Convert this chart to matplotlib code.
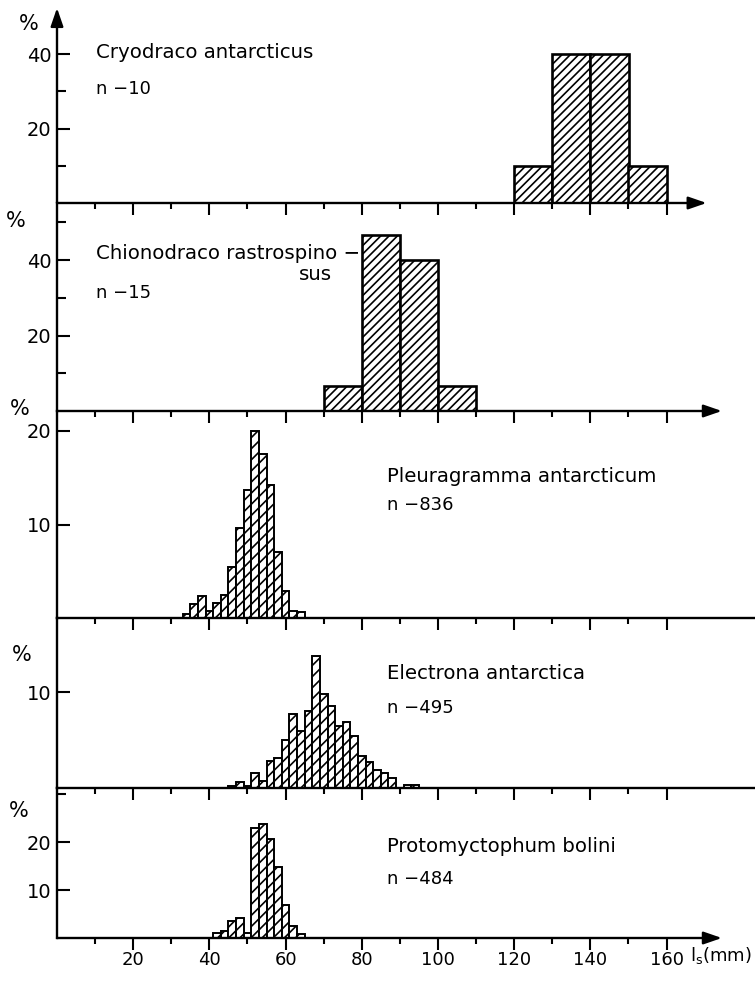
import numpy as np
import matplotlib.pyplot as plt

# length classes (left edge, mm) and share of the sample (%)
cryo_left = [120, 130, 140, 150]
cryo_pct = [10, 40, 40, 10]

chion_left = [70, 80, 90, 100]
chion_pct = [6.7, 46.7, 40, 6.7]

pleur_left = [33, 35, 37, 39, 41, 43, 45, 47, 49, 51, 53, 55, 57, 59, 61, 63]
pleur_pct = [0.4, 1.45, 2.35, 0.7, 1.6, 2.5, 5.5, 9.6, 13.7, 20.0, 17.5, 14.2,
             7.1, 2.9, 0.8, 0.6]

elec_left = [45, 47, 49, 51, 53, 55, 57, 59, 61, 63, 65, 67, 69, 71, 73, 75,
             77, 79, 81, 83, 85, 87, 91, 93]
elec_pct = [0.2, 0.6, 0.25, 1.6, 0.7, 2.8, 3.1, 5.0, 7.7, 5.9, 8.0, 13.8, 9.8,
            8.5, 6.5, 6.9, 5.4, 3.3, 2.7, 1.9, 1.6, 1.0, 0.35, 0.35]

prot_left = [41, 43, 45, 47, 49, 51, 53, 55, 57, 59, 61, 63]
prot_pct = [1.0, 1.4, 3.5, 4.2, 1.1, 22.9, 23.8, 20.7, 14.8, 6.8, 2.6, 0.9]

species = ["Cryodraco antarcticus", "Chionodraco rastrospino \u2212",
           "Pleuragramma antarcticum", "Electrona antarctica",
           "Protomyctophum bolini"]
counts = ["n \u221210", "n \u221215", "n \u2212836", "n \u2212495", "n \u2212484"]
x_major = [20, 40, 60, 80, 100, 120, 140, 160]
x_minor = [10, 30, 50, 70, 90, 110, 130, 150]

lefts = [cryo_left, chion_left, pleur_left, elec_left, prot_left]
pcts = [cryo_pct, chion_pct, pleur_pct, elec_pct, prot_pct]
widths = [10, 10, 2, 2, 2]

# layout in pixels: baseline, top, px per %, y ticks, label positions
W, H = 755, 981
X0 = 57
PX_MM = 3.81
XMAX = (W - X0) / PX_MM
layout = [
    dict(base=203, top=8, scale=3.725, major=[20, 40], minor=[10, 30],
         arrow=170.5, hatch='////', lw=1.9, name=(10.2, 40.3), n=(10.2, 30.6),
         pct=(29, 24)),
    dict(base=411, top=203, scale=3.77, major=[20, 40], minor=[10, 30, 50],
         arrow=174.5, hatch='////', lw=1.9, name=(10.2, 41.9), n=(10.2, 31.3),
         pct=(16, 221)),
    dict(base=618, top=411, scale=9.35, major=[10, 20], minor=[],
         arrow=None, hatch='///', lw=1.4, name=(86.6, 15.1), n=(86.6, 12.1),
         pct=(20, 409)),
    dict(base=788, top=618, scale=9.6, major=[10], minor=[],
         arrow=None, hatch='///', lw=1.4, name=(86.6, 11.9), n=(86.6, 8.3),
         pct=(22, 655)),
    dict(base=938, top=788, scale=4.8, major=[10, 20], minor=[30],
         arrow=174.5, hatch='///', lw=1.4, name=(86.6, 19.0), n=(86.6, 12.3),
         pct=(19, 811)),
]

plt.rcParams['font.family'] = ['DejaVu Sans']
plt.rcParams['hatch.linewidth'] = 1.2

fig = plt.figure(figsize=(W / 100, H / 100), dpi=100)
head = '-|>,head_length=1.1,head_width=0.38'

for i, (lay, left, pct, w) in enumerate(zip(layout, lefts, pcts, widths)):
    ax = fig.add_axes([X0 / W, 1 - lay['base'] / H, 1 - X0 / W,
                       (lay['base'] - lay['top']) / H])
    ax.set_xlim(0, XMAX)
    ax.set_ylim(0, (lay['base'] - lay['top']) / lay['scale'])
    ax.patch.set_alpha(0)

    ax.bar(left, pct, width=w, align='edge', facecolor='white',
           edgecolor='black', hatch=lay['hatch'], linewidth=lay['lw'], zorder=3)

    for s in ['top', 'right', 'bottom']:
        ax.spines[s].set_visible(False)
    ax.spines['left'].set_linewidth(1.7)

    # baseline of each panel
    if lay['arrow']:
        ax.annotate('', xy=(lay['arrow'], 0), xytext=(0, 0),
                    arrowprops=dict(arrowstyle=head, lw=1.7, color='black',
                                    shrinkA=0, shrinkB=0, mutation_scale=10),
                    annotation_clip=False, zorder=4)
    else:
        ax.axhline(0, color='black', lw=1.7, clip_on=False, zorder=4)

    if i == 0:
        ax.spines['left'].set_visible(False)
        ax.annotate('', xy=(0, ax.get_ylim()[1]), xytext=(0, 0),
                    arrowprops=dict(arrowstyle=head, lw=1.7, color='black',
                                    shrinkA=0, shrinkB=0, mutation_scale=10),
                    annotation_clip=False)

    ax.set_xticks(x_major)
    ax.set_xticks(x_minor, minor=True)
    ax.tick_params(axis='x', which='major', direction='out', length=8.5,
                   width=1.5, labelsize=13, pad=1)
    ax.tick_params(axis='x', which='minor', direction='out', length=4.5,
                   width=1.5)
    if i < 4:
        ax.tick_params(axis='x', labelbottom=False)
    else:
        ax.set_xticklabels([str(v) for v in x_major])

    ax.set_yticks(lay['major'])
    ax.set_yticks(lay['minor'], minor=True)
    ax.tick_params(axis='y', which='major', direction='in', length=9,
                   width=1.5, labelsize=14, pad=4)
    ax.tick_params(axis='y', which='minor', direction='in', length=6.5,
                   width=1.5)

    ax.text(lay['name'][0], lay['name'][1], species[i], fontsize=14.2,
            va='center', ha='left')
    ax.text(lay['n'][0], lay['n'][1], counts[i], fontsize=13,
            va='center', ha='left')
    if i == 1:
        ax.text(63.5, 36.1, "sus", fontsize=14.2, va='center', ha='left')

    fig.text(lay['pct'][0] / W, 1 - lay['pct'][1] / H, '%', fontsize=15,
             ha='center', va='center')

fig.text(690 / W, 1 - 956 / H, r'$\mathregular{l_s}$(mm)', fontsize=13,
         ha='left', va='center')

fig.savefig('out.png', dpi=100)
